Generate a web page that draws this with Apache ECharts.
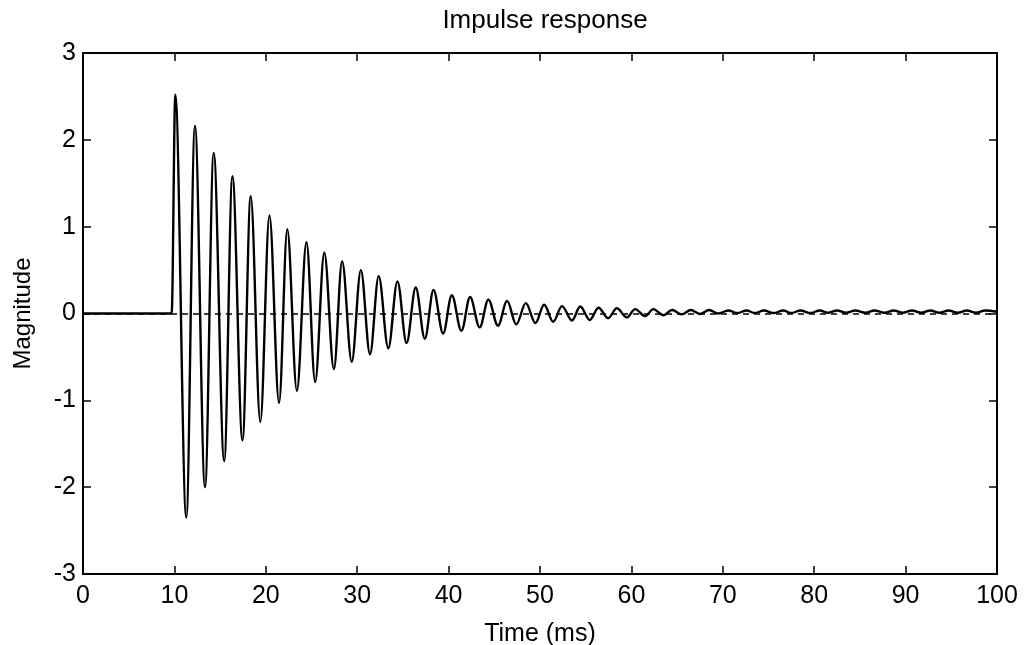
<!DOCTYPE html>
<html>
<head>
<meta charset="utf-8">
<script src="https://cdn.jsdelivr.net/npm/echarts@6/dist/echarts.min.js"></script>
<style>html,body{margin:0;padding:0;background:#fff}#c{width:1030px;height:645px}</style>
</head>
<body>
<div id="c"></div>
<script>
const chartTitle = 'Impulse response';
const xName = 'Time (ms)';
const yName = 'Magnitude';
const xTicks = [0,10,20,30,40,50,60,70,80,90,100];
const yTicks = [-3,-2,-1,0,1,2,3];

// Time (ms) of extrema
const timeMs = [
  0, 9.7, 10.1, 11.3, 12.25, 13.35, 14.3, 15.45, 16.35, 17.45, 18.35, 19.4, 20.4, 21.45,
  22.35, 23.4, 24.45, 25.4, 26.4, 27.45, 28.35, 29.4, 30.4, 31.4, 32.35, 33.4, 34.4, 35.4,
  36.4, 37.4, 38.35, 39.4, 40.35, 41.4, 42.35, 43.4, 44.35, 45.4, 46.4, 47.4, 48.45, 49.5,
  50.45, 51.45, 52.4, 53.5, 54.4, 55.45, 56.4, 57.45, 58.4, 59.5, 60.4, 61.5, 62.4, 63.5,
  64.45, 65.5, 66.5, 67.5, 68.5, 69.5, 70.6, 71.6, 72.6, 73.5, 74.5, 75.6, 76.6, 77.5,
  78.5, 79.6, 80.6, 81.5, 82.5, 83.5, 84.5, 85.6, 86.6, 87.7, 88.7, 89.7, 90.7, 91.7,
  92.7, 93.7, 94.7, 95.7, 96.7, 97.7, 98.7, 100
];
// Magnitude at those times
const magnitude = [
  0, 0, 2.52, -2.35, 2.16, -2.0, 1.85, -1.70, 1.58, -1.46, 1.35, -1.25, 1.13, -1.03,
  0.97, -0.89, 0.82, -0.79, 0.70, -0.64, 0.60, -0.555, 0.50, -0.47, 0.43, -0.40, 0.37, -0.34,
  0.30, -0.29, 0.27, -0.23, 0.21, -0.20, 0.19, -0.16, 0.16, -0.14, 0.145, -0.125, 0.12, -0.11,
  0.10, -0.095, 0.085, -0.08, 0.08, -0.075, 0.067, -0.055, 0.06, -0.045, 0.05, -0.03, 0.05, -0.02,
  0.04, -0.01, 0.04, -0.005, 0.04, 0.0, 0.035, 0.005, 0.035, 0.005, 0.035, 0.005, 0.035, 0.005,
  0.035, 0.005, 0.035, 0.008, 0.035, 0.008, 0.035, 0.008, 0.035, 0.008, 0.035, 0.008, 0.035, 0.008,
  0.035, 0.008, 0.035, 0.008, 0.035, 0.008, 0.035, 0.02
];

const seriesData = timeMs.map((t, i) => [t, magnitude[i]]);
const FONT = '"Liberation Sans", Arial, sans-serif';

const chart = echarts.init(document.getElementById('c'), null, {renderer: 'canvas'});

const xAxisBase = (show) => ({
  type: 'value', min: xTicks[0], max: xTicks[xTicks.length-1], interval: 10,
  axisLine: {show: true, onZero: false, lineStyle: {color: '#000', width: 2}},
  axisTick: {show: true, inside: true, length: 8, lineStyle: {color: '#000', width: 1.5}},
  splitLine: {show: false},
  axisLabel: {show: show, color: '#000', fontSize: 25, fontFamily: FONT, margin: 10}
});
const yAxisBase = (show) => ({
  type: 'value', min: yTicks[0], max: yTicks[yTicks.length-1], interval: 1,
  axisLine: {show: true, onZero: false, lineStyle: {color: '#000', width: 2}},
  axisTick: {show: true, inside: true, length: 8, lineStyle: {color: '#000', width: 1.5}},
  splitLine: {show: false},
  axisLabel: {show: show, color: '#000', fontSize: 25, fontFamily: FONT, margin: 7}
});

chart.setOption({
  backgroundColor: '#fff',
  animation: false,
  title: {
    text: chartTitle, left: 540, top: 3, textAlign: 'center',
    textStyle: {color: '#000', fontSize: 26, fontWeight: 'normal', fontFamily: FONT}
  },
  grid: {left: 83, right: 33, top: 53, bottom: 71, containLabel: false, outerBoundsMode: 'none'},
  xAxis: [
    Object.assign(xAxisBase(true), {
      position: 'bottom', name: xName, nameLocation: 'middle', nameGap: 48,
      nameTextStyle: {color: '#000', fontSize: 25, fontFamily: FONT}
    }),
    Object.assign(xAxisBase(false), {position: 'top'})
  ],
  yAxis: [
    Object.assign(yAxisBase(true), {
      position: 'left', name: yName, nameLocation: 'middle', nameGap: 48,
      nameTextStyle: {color: '#000', fontSize: 24, fontFamily: FONT}
    }),
    Object.assign(yAxisBase(false), {position: 'right'})
  ],
  series: [{
    type: 'line',
    data: seriesData,
    xAxisIndex: 0, yAxisIndex: 0,
    showSymbol: false,
    smooth: 0.35,
    smoothMonotone: 'x',
    lineStyle: {color: '#000', width: 2.4},
    markLine: {
      silent: true, symbol: 'none', label: {show: false},
      lineStyle: {color: '#000', width: 1.5, type: [6, 5]},
      data: [{yAxis: 0}]
    }
  }]
});
</script>
</body>
</html>
